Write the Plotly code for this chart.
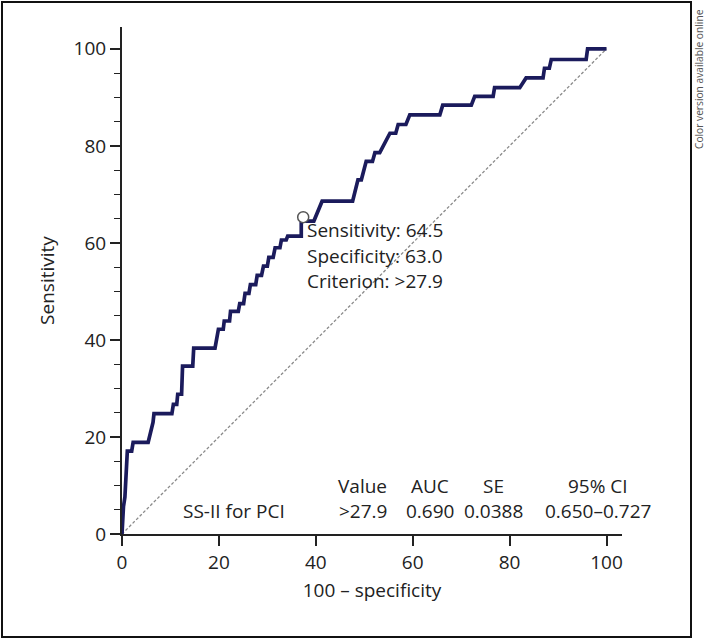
import plotly.graph_objects as go

# ROC curve vertices (100 - specificity, sensitivity)
fpr = [0, 0.3, 0.6, 0.8, 1.0, 1.1, 2.0, 2.3, 5.4, 6.4, 6.6, 10.3, 10.6, 11.3, 11.5, 12.3,
       12.5, 14.6, 14.8, 19.2, 19.9, 20.9, 21.1, 22.2, 22.4, 24.0, 24.3, 25.1, 25.4, 26.2,
       26.5, 27.6, 27.9, 28.8, 29.2, 30.0, 30.3, 31.2, 31.6, 32.6, 32.9, 33.9, 34.2, 37.0,
       37.0, 39.6, 41.3, 47.6, 48.7, 49.4, 50.4, 51.7, 52.2, 53.2, 55.3, 56.5, 57.0, 58.6,
       59.4, 65.6, 66.2, 72.1, 72.8, 76.6, 76.9, 82.1, 83.4, 86.9, 87.2, 88.2, 88.6, 95.8,
       96.1, 100]
sens = [0, 5.6, 7.6, 10.9, 13.4, 17.1, 17.1, 18.9, 18.9, 23.0, 24.8, 24.8, 26.7, 26.7, 28.8, 28.8,
        34.6, 34.6, 38.3, 38.3, 42.2, 42.2, 43.9, 43.9, 45.9, 45.9, 47.5, 47.5, 49.6, 49.6,
        51.4, 51.4, 53.3, 53.3, 55.2, 55.2, 57.0, 57.0, 59.0, 59.0, 60.6, 60.6, 61.4, 61.4,
        64.5, 64.5, 68.6, 68.6, 73.0, 73.0, 76.8, 76.8, 78.6, 78.6, 82.6, 82.6, 84.4, 84.4,
        86.4, 86.4, 88.4, 88.4, 90.2, 90.2, 92.0, 92.0, 94.0, 94.0, 96.0, 96.0, 97.8, 97.8,
        100, 100]

diag = [0, 100]
cut_point = (37.4, 65.3)
cut_labels = ["Sensitivity: 64.5", "Specificity: 63.0", "Criterion: >27.9"]
table_header = ["Value", "AUC", "SE", "95% CI"]
table_row = [">27.9", "0.690", "0.0388", "0.650–0.727"]
row_name = "SS-II for PCI"
x_ticks = [0, 20, 40, 60, 80, 100]
y_ticks = [0, 20, 40, 60, 80, 100]

FONT = "Open Sans"
TXT = "#222222"
FS = 19

fig = go.Figure()
fig.add_trace(go.Scatter(x=diag, y=diag, mode="lines",
                         line=dict(color="#8a8a8a", width=1.3, dash="3px,2px"),
                         hoverinfo="skip", showlegend=False))
fig.add_trace(go.Scatter(x=fpr, y=sens, mode="lines",
                         line=dict(color="#1b1b5c", width=3.7),
                         showlegend=False))
fig.add_trace(go.Scatter(x=[cut_point[0]], y=[cut_point[1]], mode="markers",
                         marker=dict(size=11, color="white",
                                     line=dict(color="#555555", width=1.5)),
                         cliponaxis=False, showlegend=False))

# cut-point labels
for t, yv in zip(cut_labels, [62.7, 57.3, 52.2]):
    fig.add_annotation(x=37.7, y=yv, xref="x", yref="y", text=t, showarrow=False,
                       xanchor="left", yanchor="middle",
                       font=dict(family=FONT, size=FS, color=TXT))

# table
col_x = [49.7, 63.5, 76.7, 98.3]
for cx, h, v in zip(col_x, table_header, table_row):
    fig.add_annotation(x=cx, y=9.8, xref="x", yref="y", text=h, showarrow=False,
                       xanchor="center", yanchor="middle",
                       font=dict(family=FONT, size=FS, color=TXT))
    fig.add_annotation(x=cx, y=4.8, xref="x", yref="y", text=v, showarrow=False,
                       xanchor="center", yanchor="middle",
                       font=dict(family=FONT, size=FS, color=TXT))
fig.add_annotation(x=23.1, y=4.8, xref="x", yref="y", text=row_name, showarrow=False,
                   xanchor="center", yanchor="middle",
                   font=dict(family=FONT, size=FS, color=TXT))

# side note (positions given in page pixels relative to the plot area)
fig.add_annotation(x=(699 - 122) / 500, y=(534 - 79) / 507, xref="paper", yref="paper",
                   text="Color version available online", showarrow=False, textangle=-90,
                   xanchor="center", yanchor="middle",
                   font=dict(family=FONT, size=10.2, color="#555555"))

# outer frame
fig.add_shape(type="rect", xref="paper", yref="paper",
              x0=(2 - 122) / 500, x1=(691 - 122) / 500,
              y0=(534 - 637) / 507, y1=(534 - 2) / 507,
              line=dict(color="#111111", width=2), fillcolor="rgba(0,0,0,0)")

axis_common = dict(showgrid=False, zeroline=False, showline=True, linecolor="#222222",
                   linewidth=2, ticks="outside", ticklen=10, tickwidth=1.5,
                   tickcolor="#222222",
                   tickfont=dict(family=FONT, size=FS, color=TXT),
                   title_font=dict(family=FONT, size=FS, color=TXT))

fig.update_xaxes(range=[0, 103.2], tickvals=x_ticks, title_text="100 – specificity",
                 title_standoff=10, **axis_common)
fig.update_yaxes(range=[0, 104.5], tickvals=y_ticks, title_text="Sensitivity",
                 title_standoff=14,
                 minor=dict(dtick=5, ticks="outside", ticklen=6, tickwidth=1.2,
                            tickcolor="#222222", showgrid=False),
                 **axis_common)

fig.update_layout(width=710, height=640, margin=dict(l=122, r=88, t=27, b=106),
                  plot_bgcolor="white", paper_bgcolor="white",
                  font=dict(family=FONT, color=TXT), showlegend=False)

fig.write_html("out.html", config={"displayModeBar": False},
               post_script="document.body.style.margin='0';document.body.style.overflow='hidden';")
